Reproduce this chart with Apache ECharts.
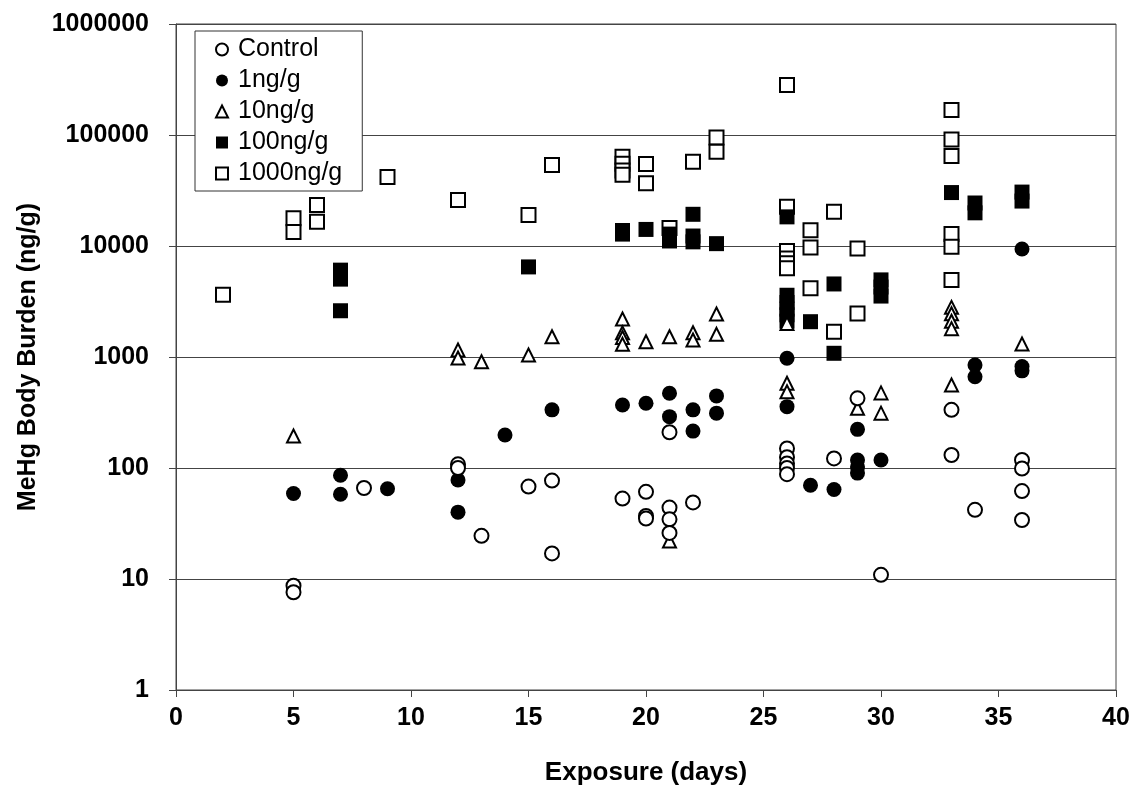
<!DOCTYPE html>
<html>
<head>
<meta charset="utf-8">
<script src="https://cdn.jsdelivr.net/npm/echarts@6/dist/echarts.min.js"></script>
<style>
  html, body { margin: 0; padding: 0; background: #fff; }
  #chart { width: 1136px; height: 792px; }
</style>
</head>
<body>
<div id="chart"></div>
<script>
// MeHg body burden (ng/g) by exposure day, one list per dietary treatment: [day, value]
const control = [
  [5, 8.7], [5, 7.6], [8, 66], [12, 108], [12, 100], [13, 24.5], [15, 68], [16, 77], [16, 17],
  [19, 53], [20, 61], [20, 37], [20, 35], [21, 210], [21, 44], [21, 34.5], [21, 26], [22, 49],
  [26, 150], [26, 125], [26, 110], [26, 100], [26, 88], [28, 122], [29, 424], [30, 10.9],
  [33, 334], [33, 131], [34, 42], [36, 118], [36, 99], [36, 62], [36, 34]
];
const dose1 = [
  [5, 59], [7, 86], [7, 58], [9, 65], [12, 78], [12, 40], [14, 198], [16, 334], [19, 370],
  [20, 383], [21, 471], [21, 290], [22, 334], [22, 215], [23, 446], [23, 312], [26, 973],
  [26, 357], [27, 70], [28, 64], [29, 223], [29, 118], [29, 102], [29, 90], [30, 118],
  [34, 847], [34, 664], [36, 9400], [36, 820], [36, 750]
];
const dose10 = [
  [5, 194], [12, 1156], [12, 980], [13, 907], [15, 1043], [16, 1520], [19, 2200], [19, 1650],
  [19, 1500], [19, 1300], [20, 1374], [21, 1520], [21, 22], [22, 1656], [22, 1422], [23, 2440],
  [23, 1600], [26, 2000], [26, 580], [26, 487], [29, 345], [30, 475], [30, 312], [33, 2800],
  [33, 2450], [33, 2100], [33, 1800], [33, 560], [36, 1310]
];
const dose100 = [
  [7, 6060], [7, 5030], [7, 2610], [15, 6480], [19, 13800], [19, 12800], [20, 14100],
  [21, 12800], [21, 11100], [22, 19300], [22, 12300], [22, 10900], [23, 10500], [26, 18300],
  [26, 3600], [26, 3100], [26, 2700], [26, 2400], [26, 2100], [27, 2080], [28, 4550], [28, 1080],
  [30, 4950], [30, 4270], [30, 3540], [33, 30300], [34, 24400], [34, 19900], [36, 30600], [36, 25400]
];
const dose1000 = [
  [2, 3630], [5, 17800], [5, 13400], [6, 23400], [6, 16500], [9, 41900], [12, 25900], [15, 19000],
  [16, 53700], [19, 63600], [19, 55000], [19, 48000], [19, 43900], [20, 54700], [20, 36700],
  [21, 14500], [22, 57400], [23, 95000], [23, 70600], [26, 282000], [26, 22600], [26, 9000],
  [26, 7700], [26, 7000], [26, 6300], [27, 13900], [27, 9700], [27, 4160], [28, 20400], [28, 1690],
  [29, 9500], [29, 2470], [33, 168000], [33, 91300], [33, 64800], [33, 12800], [33, 9860], [33, 4940]
];

const seriesNames = ['Control', '1ng/g', '10ng/g', '100ng/g', '1000ng/g'];
const xTicks = [0, 5, 10, 15, 20, 25, 30, 35, 40];
const yTicks = [1, 10, 100, 1000, 10000, 100000, 1000000];

const FONT = '"Liberation Sans", Arial, sans-serif';

function makeSeries(name, data, symbol, filled, size, z) {
  return {
    name: name,
    type: 'scatter',
    data: data,
    symbol: symbol,
    symbolSize: size,
    z: z,
    itemStyle: {
      color: filled ? '#000' : '#fff',
      borderColor: '#000',
      borderWidth: filled ? 0 : 2,
      opacity: 1
    },
    emphasis: { disabled: true }
  };
}

const chart = echarts.init(document.getElementById('chart'), null, { renderer: 'canvas' });
chart.setOption({
  animation: false,
  backgroundColor: '#fff',
  textStyle: { fontFamily: FONT },
  grid: {
    left: 176, right: 20, top: 24, bottom: 102,
    show: true, borderColor: '#444', borderWidth: 1, backgroundColor: 'transparent'
  },
  legend: {
    orient: 'vertical',
    left: 195, top: 31,
    data: seriesNames,
    backgroundColor: '#fff',
    borderColor: '#333', borderWidth: 1,
    padding: [6, 20, 5, 20],
    itemWidth: 12, itemHeight: 12,
    itemGap: 6,
    textStyle: { fontFamily: FONT, fontSize: 25, color: '#000', lineHeight: 25, padding: [0, 0, 0, 5] }
  },
  xAxis: {
    type: 'value',
    min: xTicks[0], max: xTicks[xTicks.length - 1], interval: 5,
    name: 'Exposure (days)',
    nameLocation: 'middle', nameGap: 70,
    nameTextStyle: { fontFamily: FONT, fontWeight: 'bold', fontSize: 26, color: '#000' },
    axisLine: { show: true, lineStyle: { color: '#444', width: 1 } },
    axisTick: { show: true, inside: false, length: 7, lineStyle: { color: '#444' } },
    axisLabel: { fontFamily: FONT, fontWeight: 'bold', fontSize: 25, color: '#000', margin: 16 },
    splitLine: { show: false }
  },
  yAxis: {
    type: 'log', logBase: 10,
    min: yTicks[0], max: yTicks[yTicks.length - 1],
    name: 'MeHg Body Burden (ng/g)',
    nameLocation: 'middle', nameGap: 134, nameRotate: 90,
    nameTextStyle: { fontFamily: FONT, fontWeight: 'bold', fontSize: 25, color: '#000' },
    axisLine: { show: true, lineStyle: { color: '#444', width: 1 } },
    axisTick: { show: true, inside: false, length: 7, lineStyle: { color: '#444' } },
    axisLabel: {
      fontFamily: FONT, fontWeight: 'bold', fontSize: 25, color: '#000', margin: 27,
      formatter: function (v) { return String(Math.round(v)); }
    },
    splitLine: { show: true, lineStyle: { color: '#444', width: 1 } }
  },
  series: [
    makeSeries(seriesNames[0], control, 'circle', false, 14, 10),
    makeSeries(seriesNames[1], dose1, 'circle', true, 15, 9),
    makeSeries(seriesNames[2], dose10, 'triangle', false, 13, 8),
    makeSeries(seriesNames[3], dose100, 'rect', true, 15, 7),
    makeSeries(seriesNames[4], dose1000, 'rect', false, 14, 6)
  ]
});
</script>
</body>
</html>
